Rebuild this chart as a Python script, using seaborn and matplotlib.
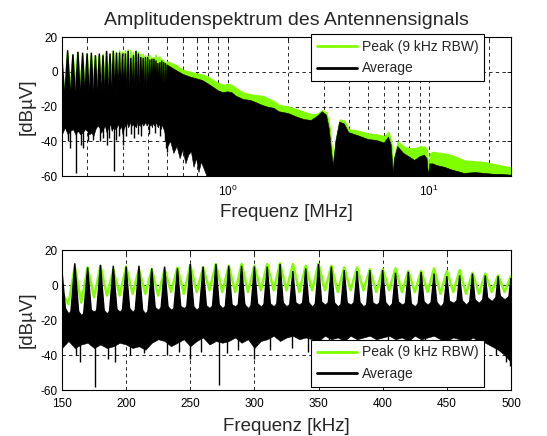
import matplotlib
matplotlib.use("Agg")
import matplotlib.pyplot as plt
import seaborn as sns
from matplotlib.lines import Line2D
from matplotlib.ticker import FixedLocator, NullFormatter

# 150-500 kHz, read every 5 kHz
freq_khz = [150, 155, 160, 165, 170, 175, 180, 185, 190, 195,
            200, 205, 210, 215, 220, 225, 230, 235, 240, 245,
            250, 255, 260, 265, 270, 275, 280, 285, 290, 295,
            300, 305, 310, 315, 320, 325, 330, 335, 340, 345,
            350, 355, 360, 365, 370, 375, 380, 385, 390, 395,
            400, 405, 410, 415, 420, 425, 430, 435, 440, 445,
            450, 455, 460, 465, 470, 475, 480, 485, 490, 495, 500]
# top / bottom edge of the dense noise band of the average trace
avg_band_db = [-10, -16, -12, -17, -13, -15, -12, -16, -12, -15,
               -11, -15, -12, -16, -11, -14, -10, -14, -11, -13,
               -10, -14, -10, -13, -9, -13, -10, -12, -9, -13,
               -9, -12, -9, -12, -8, -12, -9, -11, -8, -12,
               -8, -11, -8, -12, -9, -11, -8, -12, -9, -11,
               -8, -12, -8, -11, -9, -12, -8, -11, -8, -12,
               -8, -10, -7, -11, -7, -10, -6, -9, -5, -8, -5]
avg_bottom_db = [-36, -32, -36, -34, -33, -36, -34, -36, -35, -33,
                 -34, -36, -35, -37, -33, -31, -32, -35, -33, -31,
                 -35, -32, -30, -34, -32, -33, -32, -30, -33, -31,
                 -36, -32, -31, -29, -32, -30, -29, -31, -30, -31,
                 -32, -29, -31, -30, -32, -29, -31, -30, -29, -31,
                 -30, -29, -31, -30, -32, -29, -31, -30, -29, -31,
                 -32, -30, -31, -33, -30, -32, -33, -35, -37, -40, -44]
peak_db = [-4, -11, 10.5, -10, 10, -7, 11, -6, 9, -6,
           10.5, -5, 9, -5, 9, -6, 9, -4, 10, -5,
           11.5, -4, 10, -3, 12, -4, 11, -4, 12, -4,
           11, -3, 12, -3, 12.5, -3, 12, -4, 11, -3,
           12, -3, 11, -4, 10, -3, 10, -3, 9, -4,
           9, -3, 9.5, -4, 8, -4, 8, -4, 9.5, -5,
           8, -4, 8.5, -5, 7, -5, 6.5, -4, 5.5, -4, 5]

# harmonic spikes of the average trace (10 kHz spacing)
harm_khz = [150, 160, 170, 180, 190, 200, 210, 220, 230, 240, 250, 260,
            270, 280, 290, 300, 310, 320, 330, 340, 350, 360, 370, 380,
            390, 400, 410, 420, 430, 440, 450, 460, 470, 480, 490, 500]
harm_db = [8, 12.4, 10, 11.5, 11, 10.5, 11, 9.5, 10.5, 9.5, 12, 10.5,
           12, 11, 11, 10.5, 10.5, 12, 8, 9.5, 12, 10.5, 8.5, 8,
           8.5, 8.5, 7, 7.5, 7.5, 6.5, 5, 5.5, 6.5, 5.5, 5, 4]

# narrow downward spikes of the average trace
dip_khz = [161, 164, 175.5, 186, 191, 203, 214, 232, 241, 250, 258, 272.5, 279,
           287, 300, 312, 329, 342, 358, 371, 404, 433, 462, 488, 496, 499]
dip_db = [-40, -44, -58, -42, -44, -40, -39, -40, -38, -42, -38, -57, -39,
          -37, -42, -37, -36, -38, -36, -37, -36, -35, -37, -40, -44, -46]

# 0.5-25.6 MHz envelope of the traces
freq_hi_mhz = [0.5, 0.55, 0.6, 0.65, 0.7, 0.75, 0.8, 0.85, 0.9, 0.95, 1.0,
               1.05, 1.1, 1.2, 1.3, 1.4, 1.5, 1.6, 1.7, 1.8, 2.0,
               2.2, 2.4, 2.6, 2.8, 2.95, 3.1, 3.2, 3.3, 3.35, 3.45,
               3.6, 3.8, 4.0, 4.5, 5.0, 5.5, 6.0, 6.3, 6.5, 6.65,
               6.75, 7.0, 7.5, 8.0, 8.5, 9.0, 9.5, 9.8, 9.95, 10.1,
               10.5, 11, 12, 13, 14, 15, 17, 19, 21, 23, 25.6]
avg_top_hi_db = [4, 1, -1.5, -3, -4, -5, -7, -9, -11, -12, -11.5,
                 -12, -14, -16, -16.5, -18, -19.5, -20.5, -21, -23, -24,
                 -26, -27.5, -28, -25.5, -23, -25, -33, -48, -54, -40,
                 -29, -30, -35, -37, -39, -39.5, -41, -37.5, -42, -58,
                 -50, -43, -47, -49, -51, -49, -48, -50, -60, -53,
                 -53, -54, -55, -56.5, -57.5, -58.5, -58, -58.5, -59, -59, -59.5]
peak_hi_db = [6, 4, 1, 0, -1, -1.5, -3, -5, -6.5, -7.5, -7,
              -7.5, -9.5, -12, -13, -13.5, -14, -15.5, -17, -19, -20,
              -21.5, -23, -24.5, -24, -22, -23.5, -30, -45, -53, -38,
              -27.5, -28, -33, -34, -35.5, -36, -37, -34.5, -40, -57,
              -48, -40, -43, -44, -44, -43, -43, -45, -59, -47,
              -46, -46.5, -47, -48, -49.5, -51, -51.5, -52, -53, -54, -55]
# lower edge of the average trace above 0.5 MHz (reaches the axis at 0.8 MHz)
floor_hi_mhz = [0.5, 0.52, 0.54, 0.56, 0.58, 0.6, 0.62, 0.64, 0.66, 0.68,
                0.7, 0.72, 0.74, 0.77, 0.8, 25.6]
floor_hi_db = [-44, -40, -47, -43, -50, -45, -53, -48, -46, -55,
               -50, -58, -52, -57, -62, -62]

GREEN = "#80ff00"
SPIKE_BASE_DB = -20  # spike polygons start inside the noise band

sns.set_style("white")
plt.rcParams["font.family"] = ["Liberation Sans", "DejaVu Sans"]
plt.rcParams["axes.unicode_minus"] = False
plt.rcParams["mathtext.default"] = "regular"

fig = plt.figure(figsize=(5.47, 4.36), dpi=100)
ax1 = fig.add_axes([0.1133, 0.5963, 0.8208, 0.3188])
ax2 = fig.add_axes([0.1133, 0.1055, 0.8208, 0.3211])


def draw_low(ax, scale, half_width, green_lw):
    """150-500 kHz part: peak line, noise band, harmonic spikes, dips."""
    x = [f / scale for f in freq_khz]
    sns.lineplot(x=x, y=peak_db, ax=ax, color=GREEN, lw=green_lw, sort=False,
                 estimator=None, zorder=2)
    ax.fill_between(x, avg_bottom_db, avg_band_db, color="k", lw=0.4,
                    edgecolor="k", zorder=3)
    for h, pk in zip(harm_khz, harm_db):
        xs = [(h - half_width) / scale, h / scale, (h + half_width) / scale]
        ax.fill(xs, [SPIKE_BASE_DB, pk, SPIKE_BASE_DB], color="k", lw=1.0,
                edgecolor="k", zorder=3)
    ax.vlines([f / scale for f in dip_khz], dip_db, -28, color="k", lw=1, zorder=3)


# ---- top: 0.15 - 26 MHz, log axis
draw_low(ax1, 1000, 6, 1.2)
ax1.fill_between(freq_hi_mhz, avg_top_hi_db, peak_hi_db, color=GREEN, lw=0.8,
                 edgecolor=GREEN, zorder=2)
hi_outline = (list(zip(freq_hi_mhz, avg_top_hi_db))
              + list(zip(floor_hi_mhz, floor_hi_db))[::-1])
ax1.fill([p[0] for p in hi_outline], [p[1] for p in hi_outline], color="k",
         lw=0.4, edgecolor="k", zorder=3)

ax1.set_xscale("log")
ax1.set_xlim(0.15, 25.6)
ax1.set_ylim(-60, 20)
ax1.xaxis.set_major_locator(FixedLocator([1, 10]))
ax1.set_xticklabels(["$10^{0}$", "$10^{1}$"])
ax1.xaxis.set_minor_locator(FixedLocator([0.2, 0.3, 0.4, 0.5, 0.6, 0.7, 0.8, 0.9,
                                          2, 3, 4, 5, 6, 7, 8, 9, 20]))
ax1.xaxis.set_minor_formatter(NullFormatter())
ax1.set_yticks([-60, -40, -20, 0, 20])
ax1.grid(True, which="both", axis="x", color="k", ls=(0, (4, 4)), lw=0.6)
ax1.grid(True, which="major", axis="y", color="k", ls=(0, (4, 4)), lw=0.6)
ax1.set_title("Amplitudenspektrum des Antennensignals", fontsize=14, pad=9)
ax1.set_xlabel("Frequenz [MHz]", fontsize=13.5, labelpad=4)
ax1.set_ylabel("[dBµV]", fontsize=13.5, labelpad=4)

# ---- bottom: 150 - 500 kHz, linear axis
draw_low(ax2, 1, 3.5, 1.8)
ax2.set_xlim(150, 500)
ax2.set_ylim(-60, 20)
ax2.set_xticks([150, 200, 250, 300, 350, 400, 450, 500])
ax2.set_yticks([-60, -40, -20, 0, 20])
ax2.grid(True, color="k", ls=(0, (4, 4)), lw=0.6)
ax2.set_xlabel("Frequenz [kHz]", fontsize=13.5, labelpad=6)
ax2.set_ylabel("[dBµV]", fontsize=13.5, labelpad=4)

handles = [Line2D([], [], color=GREEN, lw=2), Line2D([], [], color="k", lw=2)]
labels = ["Peak (9 kHz RBW)", "Average"]
for ax, loc, anchor in [(ax1, "upper right", (0.94, 1.02)),
                        (ax2, "lower right", (0.94, 0.024))]:
    ax.set_axisbelow(True)
    ax.tick_params(which="both", direction="in", top=True, right=True,
                   labelsize=8.5, length=3, width=0.6, pad=3, colors="k")
    ax.tick_params(axis="x", which="both", pad=5.5)
    ax.tick_params(which="minor", length=2)
    for s in ax.spines.values():
        s.set_color("k")
        s.set_linewidth(0.8)
    leg = ax.legend(handles, labels, loc=loc, bbox_to_anchor=anchor, fontsize=10,
                    frameon=True, fancybox=False, edgecolor="k", framealpha=1,
                    handlelength=2.9, handletextpad=0.35, borderaxespad=0,
                    borderpad=0.4, labelspacing=0.55)
    leg.get_frame().set_linewidth(0.8)
    leg.set_zorder(5)

fig.savefig("out.png", dpi=100)
